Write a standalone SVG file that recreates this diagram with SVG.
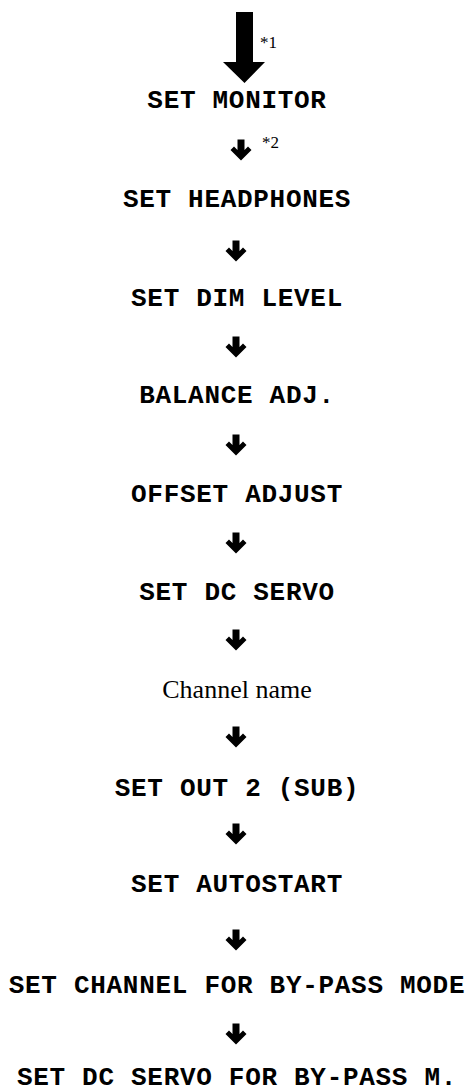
<svg xmlns="http://www.w3.org/2000/svg" width="467" height="1091" viewBox="0 0 467 1091">
<defs>
<style>
.t{font-family:"Liberation Mono","Courier New",monospace;font-weight:bold;font-size:26px;letter-spacing:0.7px;fill:#000;text-anchor:middle}
.s{font-family:"Liberation Serif","Times New Roman",serif;font-size:26px;fill:#000;text-anchor:middle}
.n{font-family:"Liberation Serif","Times New Roman",serif;font-size:17px;fill:#000}
</style>
<path id="sa" d="M-3.5,-10.5 H3.5 V0 L7,-3.5 L10.5,0 L0,10.5 L-10.5,0 L-7,-3.5 L-3.5,0 Z" fill="#000"/>
</defs>
<g id="connectors">
<polygon points="236,12 253,12 253,62 265,62 244.5,83 223,62 236,62" fill="#000"/>
<text class="n" x="260" y="48">*1</text>
<use href="#sa" x="241" y="150"/>
<text class="n" x="262" y="148">*2</text>
<use href="#sa" x="236" y="251"/>
<use href="#sa" x="236" y="347"/>
<use href="#sa" x="236" y="445"/>
<use href="#sa" x="236" y="543"/>
<use href="#sa" x="236" y="640"/>
<use href="#sa" x="236" y="737"/>
<use href="#sa" x="236" y="834"/>
<use href="#sa" x="236" y="940"/>
<use href="#sa" x="236" y="1034"/>
</g>
<g id="n1"><text class="t" x="237" y="108">SET MONITOR</text></g>
<g id="n2"><text class="t" x="237" y="207">SET HEADPHONES</text></g>
<g id="n3"><text class="t" x="237" y="306">SET DIM LEVEL</text></g>
<g id="n4"><text class="t" x="237" y="403">BALANCE ADJ.</text></g>
<g id="n5"><text class="t" x="237" y="502">OFFSET ADJUST</text></g>
<g id="n6"><text class="t" x="237" y="600">SET DC SERVO</text></g>
<g id="n7"><text class="s" x="237" y="698">Channel name</text></g>
<g id="n8"><text class="t" x="237" y="796">SET OUT 2 (SUB)</text></g>
<g id="n9"><text class="t" x="237" y="892">SET AUTOSTART</text></g>
<g id="n10"><text class="t" x="237" y="993">SET CHANNEL FOR BY-PASS MODE</text></g>
<g id="n11"><text class="t" x="237" y="1085">SET DC SERVO FOR BY-PASS M.</text></g>
</svg>
